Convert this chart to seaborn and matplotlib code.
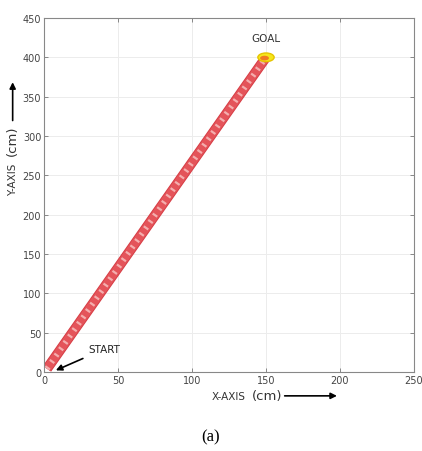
import matplotlib
matplotlib.use("Agg")
import matplotlib.pyplot as plt
import matplotlib.patheffects as pe
from matplotlib.patches import Ellipse, FancyArrowPatch
import pandas as pd
import seaborn as sns

# Robot trajectory from start to goal (cm)
path_x = [2, 150]
path_y = [4, 400]
start = (8, 2)
goal = (150, 400)
x_ticks = [0, 50, 100, 150, 200, 250]
y_ticks = [0, 50, 100, 150, 200, 250, 300, 350, 400, 450]

sns.set_theme(style="white")
plt.rcParams["font.family"] = ["DejaVu Sans"]

fig = plt.figure(figsize=(4.22, 4.52), dpi=100)
ax = fig.add_axes([0.1043, 0.175, 0.8767, 0.783])

df = pd.DataFrame({"x": path_x, "y": path_y})
sns.lineplot(data=df, x="x", y="y", ax=ax, color="#e4545a", linewidth=6,
             solid_capstyle="butt", sort=False,
             path_effects=[pe.Stroke(linewidth=7.3, foreground="#d63c44"), pe.Normal()])
ax.plot(path_x, path_y, color="#f4aeae", linewidth=4, dashes=(0.4, 1.0),
        solid_capstyle="butt", dash_capstyle="butt", zorder=3)

# goal marker
ax.add_patch(Ellipse(goal, width=11, height=11, facecolor="#f5e61b",
                     edgecolor="#e6c400", lw=1, zorder=4))
ax.add_patch(Ellipse((goal[0] - 1, goal[1] - 1), width=6, height=6,
                     facecolor="#f07a20", edgecolor="none", zorder=5))
ax.text(goal[0], goal[1] + 24, "GOAL", ha="center", va="center",
        fontsize=7.5, color="#333333")

ax.annotate("START", xy=start, xytext=(30, 29), fontsize=7.5, color="#222222",
            ha="left", va="center",
            arrowprops=dict(arrowstyle="-|>", color="black", lw=1.2,
                            mutation_scale=9, shrinkA=2, shrinkB=0))

ax.set_xlim(0, 250)
ax.set_ylim(0, 450)
ax.set_xticks(x_ticks)
ax.set_yticks(y_ticks)
ax.set_xlabel("")
ax.set_ylabel("")
ax.grid(True, color="#ececec", linewidth=0.7)
ax.tick_params(direction="in", length=3, width=0.6, color="#777777",
               labelsize=7, labelcolor="#444444", top=True, right=True,
               bottom=True, left=True, pad=2)
for s in ax.spines.values():
    s.set_color("#888888")
    s.set_linewidth(0.8)

# axis titles with arrows
fig.text(0.502, 0.121, "X-AXIS", fontsize=7.5, color="#333333", ha="left", va="center")
fig.text(0.597, 0.123, "(cm)", fontsize=9.5, color="#333333", ha="left", va="center")
fig.add_artist(FancyArrowPatch(
    (0.668, 0.122), (0.805, 0.122), transform=fig.transFigure,
    arrowstyle="-|>", mutation_scale=9, color="black", lw=1.2))

fig.text(0.03, 0.603, "Y-AXIS", fontsize=7.5, color="#333333", rotation=90,
         ha="center", va="center")
fig.text(0.03, 0.688, "(cm)", fontsize=9.5, color="#333333", rotation=90,
         ha="center", va="center")
fig.add_artist(FancyArrowPatch(
    (0.03, 0.725), (0.03, 0.822), transform=fig.transFigure,
    arrowstyle="-|>", mutation_scale=9, color="black", lw=1.2))

fig.text(0.5, 0.033, "(a)", fontsize=12, family="Liberation Serif",
         ha="center", va="center", color="black")

fig.savefig("out.png", dpi=100)
